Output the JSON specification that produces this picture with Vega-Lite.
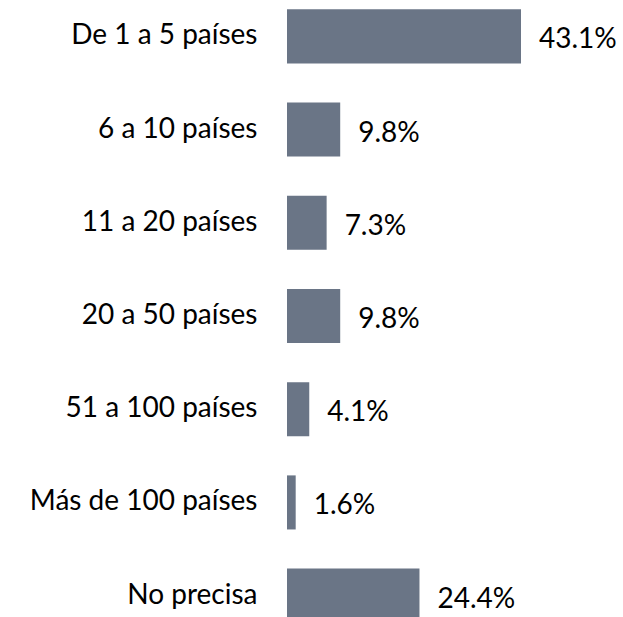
{
  "$schema": "https://vega.github.io/schema/vega-lite/v6.json",
  "autosize": "none",
  "width": 234,
  "height": 632,
  "padding": {"left": 287, "top": 0, "right": 102, "bottom": 0},
  "background": "white",
  "config": {"view": {"stroke": null}, "font": "Lato"},
  "data": {"values": [
    {"cat": "De 1 a 5 países", "v": 0.431},
    {"cat": "6 a 10 países", "v": 0.098},
    {"cat": "11 a 20 países", "v": 0.073},
    {"cat": "20 a 50 países", "v": 0.098},
    {"cat": "51 a 100 países", "v": 0.041},
    {"cat": "Más de 100 países", "v": 0.016},
    {"cat": "No precisa", "v": 0.244}
  ]},
  "encoding": {
    "y": {"field": "cat", "type": "nominal", "sort": null, "title": null,
      "scale": {"paddingInner": 0.42, "paddingOuter": 0.1},
      "axis": {"domain": false, "ticks": false, "labelPadding": 30, "labelFontSize": 28, "labelColor": "#000000", "labelFont": "Lato", "labelLimit": 400}},
    "x": {"field": "v", "type": "quantitative", "scale": {"domain": [0, 0.431], "nice": false}, "axis": null}
  },
  "layer": [
    {"mark": {"type": "bar", "color": "#6A7586"}},
    {"mark": {"type": "text", "align": "left", "baseline": "middle", "dx": 18, "dy": 4, "fontSize": 28, "color": "#000000", "font": "Lato"},
     "encoding": {"text": {"field": "v", "type": "quantitative", "format": ".1%"}}}
  ]
}
